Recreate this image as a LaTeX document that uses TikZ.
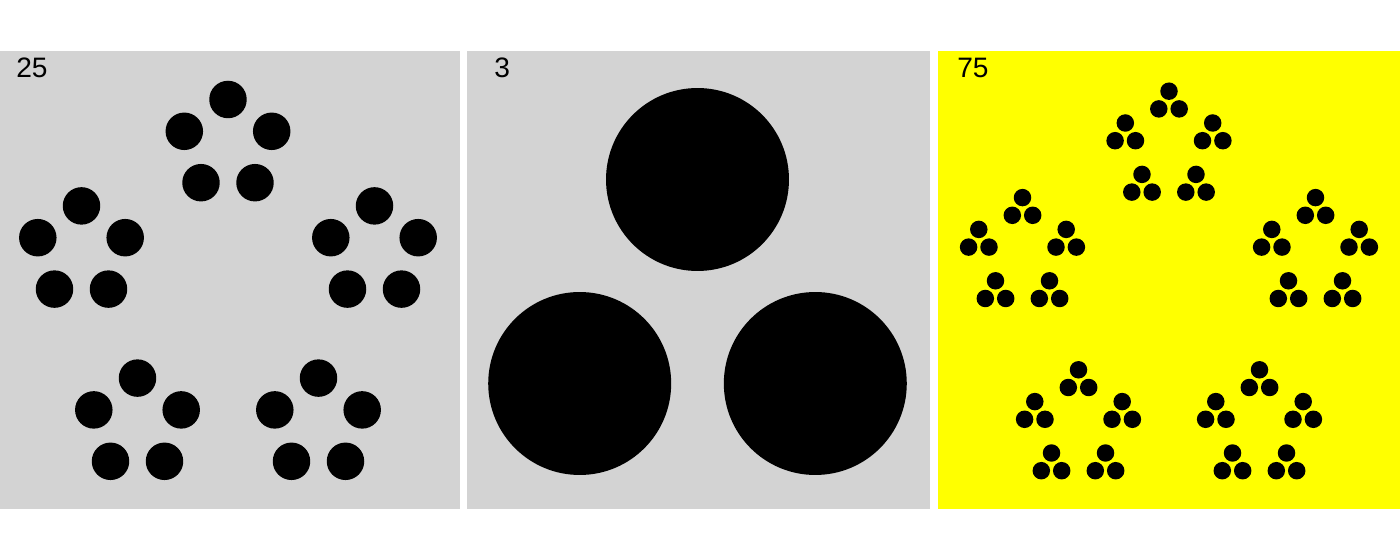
\documentclass[tikz,border=0pt]{standalone}
\usepackage{fontspec}
\setmainfont{Liberation Sans}
\usepackage{tikz}
\definecolor{panelgray}{RGB}{211,211,211}
\definecolor{panelyellow}{RGB}{255,255,0}

\begin{document}
\begin{tikzpicture}[x=0.02cm, y=-0.02cm,
  panel/.style={inner sep=0pt, outer sep=0pt, minimum height=9.16cm},
  count/.style={inner sep=0pt, anchor=base west, font=\fontsize{16}{19}\selectfont},
  dot/.style={fill=black, circle, inner sep=0pt, minimum size=0.75cm},
  bigdot/.style={fill=black, circle, inner sep=0pt, minimum size=3.66cm},
  tinydot/.style={fill=black, circle, inner sep=0pt, minimum size=0.35cm}]
\useasboundingbox (0,0) rectangle (1400,560);
\node[panel, fill=panelgray, minimum width=9.2cm] (P1) at (230,280) {};
\node[panel, fill=panelgray, minimum width=9.26cm] (P2) at (698.5,280) {};
\node[panel, fill=panelyellow, minimum width=9.24cm] (P3) at (1169,280) {};
\node[count] (P1T) at (16,78) {25};
\node[count] (P2T) at (494,78) {3};
\node[count] (P3T) at (957,78) {75};
% panel 1: 25
\node[dot] (P1G1N1) at (228,99.5) {};
\node[dot] (P1G1N2) at (184.3,131.3) {};
\node[dot] (P1G1N3) at (201,182.7) {};
\node[dot] (P1G1N4) at (255,182.7) {};
\node[dot] (P1G1N5) at (271.7,131.3) {};
\node[dot] (P1G2N1) at (81.5,205.9) {};
\node[dot] (P1G2N2) at (37.8,237.7) {};
\node[dot] (P1G2N3) at (54.5,289.1) {};
\node[dot] (P1G2N4) at (108.5,289.1) {};
\node[dot] (P1G2N5) at (125.2,237.7) {};
\node[dot] (P1G3N1) at (137.5,378.1) {};
\node[dot] (P1G3N2) at (93.8,409.9) {};
\node[dot] (P1G3N3) at (110.5,461.3) {};
\node[dot] (P1G3N4) at (164.5,461.3) {};
\node[dot] (P1G3N5) at (181.2,409.9) {};
\node[dot] (P1G4N1) at (318.5,378.1) {};
\node[dot] (P1G4N2) at (274.8,409.9) {};
\node[dot] (P1G4N3) at (291.5,461.3) {};
\node[dot] (P1G4N4) at (345.5,461.3) {};
\node[dot] (P1G4N5) at (362.2,409.9) {};
\node[dot] (P1G5N1) at (374.5,205.9) {};
\node[dot] (P1G5N2) at (330.8,237.7) {};
\node[dot] (P1G5N3) at (347.5,289.1) {};
\node[dot] (P1G5N4) at (401.5,289.1) {};
\node[dot] (P1G5N5) at (418.2,237.7) {};
% panel 2: 3
\node[bigdot] (P2N1) at (697.5,179.5) {};
\node[bigdot] (P2N2) at (579.7,383.5) {};
\node[bigdot] (P2N3) at (815.3,383.5) {};
% panel 3: 75
\node[tinydot] (P3G1N1T) at (1169,91.2) {};
\node[tinydot] (P3G1N1L) at (1158.8,108.9) {};
\node[tinydot] (P3G1N1R) at (1179.2,108.9) {};
\node[tinydot] (P3G1N2T) at (1125.3,123) {};
\node[tinydot] (P3G1N2L) at (1115.1,140.7) {};
\node[tinydot] (P3G1N2R) at (1135.5,140.7) {};
\node[tinydot] (P3G1N3T) at (1142,174.4) {};
\node[tinydot] (P3G1N3L) at (1131.8,192.1) {};
\node[tinydot] (P3G1N3R) at (1152.2,192.1) {};
\node[tinydot] (P3G1N4T) at (1196,174.4) {};
\node[tinydot] (P3G1N4L) at (1185.8,192.1) {};
\node[tinydot] (P3G1N4R) at (1206.2,192.1) {};
\node[tinydot] (P3G1N5T) at (1212.7,123) {};
\node[tinydot] (P3G1N5L) at (1202.5,140.7) {};
\node[tinydot] (P3G1N5R) at (1222.9,140.7) {};
\node[tinydot] (P3G2N1T) at (1022.5,197.6) {};
\node[tinydot] (P3G2N1L) at (1012.3,215.3) {};
\node[tinydot] (P3G2N1R) at (1032.7,215.3) {};
\node[tinydot] (P3G2N2T) at (978.8,229.4) {};
\node[tinydot] (P3G2N2L) at (968.6,247.1) {};
\node[tinydot] (P3G2N2R) at (989,247.1) {};
\node[tinydot] (P3G2N3T) at (995.5,280.8) {};
\node[tinydot] (P3G2N3L) at (985.3,298.5) {};
\node[tinydot] (P3G2N3R) at (1005.7,298.5) {};
\node[tinydot] (P3G2N4T) at (1049.5,280.8) {};
\node[tinydot] (P3G2N4L) at (1039.3,298.5) {};
\node[tinydot] (P3G2N4R) at (1059.7,298.5) {};
\node[tinydot] (P3G2N5T) at (1066.2,229.4) {};
\node[tinydot] (P3G2N5L) at (1056,247.1) {};
\node[tinydot] (P3G2N5R) at (1076.4,247.1) {};
\node[tinydot] (P3G3N1T) at (1078.5,369.8) {};
\node[tinydot] (P3G3N1L) at (1068.3,387.5) {};
\node[tinydot] (P3G3N1R) at (1088.7,387.5) {};
\node[tinydot] (P3G3N2T) at (1034.8,401.6) {};
\node[tinydot] (P3G3N2L) at (1024.6,419.3) {};
\node[tinydot] (P3G3N2R) at (1045,419.3) {};
\node[tinydot] (P3G3N3T) at (1051.5,453) {};
\node[tinydot] (P3G3N3L) at (1041.3,470.7) {};
\node[tinydot] (P3G3N3R) at (1061.7,470.7) {};
\node[tinydot] (P3G3N4T) at (1105.5,453) {};
\node[tinydot] (P3G3N4L) at (1095.3,470.7) {};
\node[tinydot] (P3G3N4R) at (1115.7,470.7) {};
\node[tinydot] (P3G3N5T) at (1122.2,401.6) {};
\node[tinydot] (P3G3N5L) at (1112,419.3) {};
\node[tinydot] (P3G3N5R) at (1132.4,419.3) {};
\node[tinydot] (P3G4N1T) at (1259.5,369.8) {};
\node[tinydot] (P3G4N1L) at (1249.3,387.5) {};
\node[tinydot] (P3G4N1R) at (1269.7,387.5) {};
\node[tinydot] (P3G4N2T) at (1215.8,401.6) {};
\node[tinydot] (P3G4N2L) at (1205.6,419.3) {};
\node[tinydot] (P3G4N2R) at (1226,419.3) {};
\node[tinydot] (P3G4N3T) at (1232.5,453) {};
\node[tinydot] (P3G4N3L) at (1222.3,470.7) {};
\node[tinydot] (P3G4N3R) at (1242.7,470.7) {};
\node[tinydot] (P3G4N4T) at (1286.5,453) {};
\node[tinydot] (P3G4N4L) at (1276.3,470.7) {};
\node[tinydot] (P3G4N4R) at (1296.7,470.7) {};
\node[tinydot] (P3G4N5T) at (1303.2,401.6) {};
\node[tinydot] (P3G4N5L) at (1293,419.3) {};
\node[tinydot] (P3G4N5R) at (1313.4,419.3) {};
\node[tinydot] (P3G5N1T) at (1315.5,197.6) {};
\node[tinydot] (P3G5N1L) at (1305.3,215.3) {};
\node[tinydot] (P3G5N1R) at (1325.7,215.3) {};
\node[tinydot] (P3G5N2T) at (1271.8,229.4) {};
\node[tinydot] (P3G5N2L) at (1261.6,247.1) {};
\node[tinydot] (P3G5N2R) at (1282,247.1) {};
\node[tinydot] (P3G5N3T) at (1288.5,280.8) {};
\node[tinydot] (P3G5N3L) at (1278.3,298.5) {};
\node[tinydot] (P3G5N3R) at (1298.7,298.5) {};
\node[tinydot] (P3G5N4T) at (1342.5,280.8) {};
\node[tinydot] (P3G5N4L) at (1332.3,298.5) {};
\node[tinydot] (P3G5N4R) at (1352.7,298.5) {};
\node[tinydot] (P3G5N5T) at (1359.2,229.4) {};
\node[tinydot] (P3G5N5L) at (1349,247.1) {};
\node[tinydot] (P3G5N5R) at (1369.4,247.1) {};
\end{tikzpicture}
\end{document}
